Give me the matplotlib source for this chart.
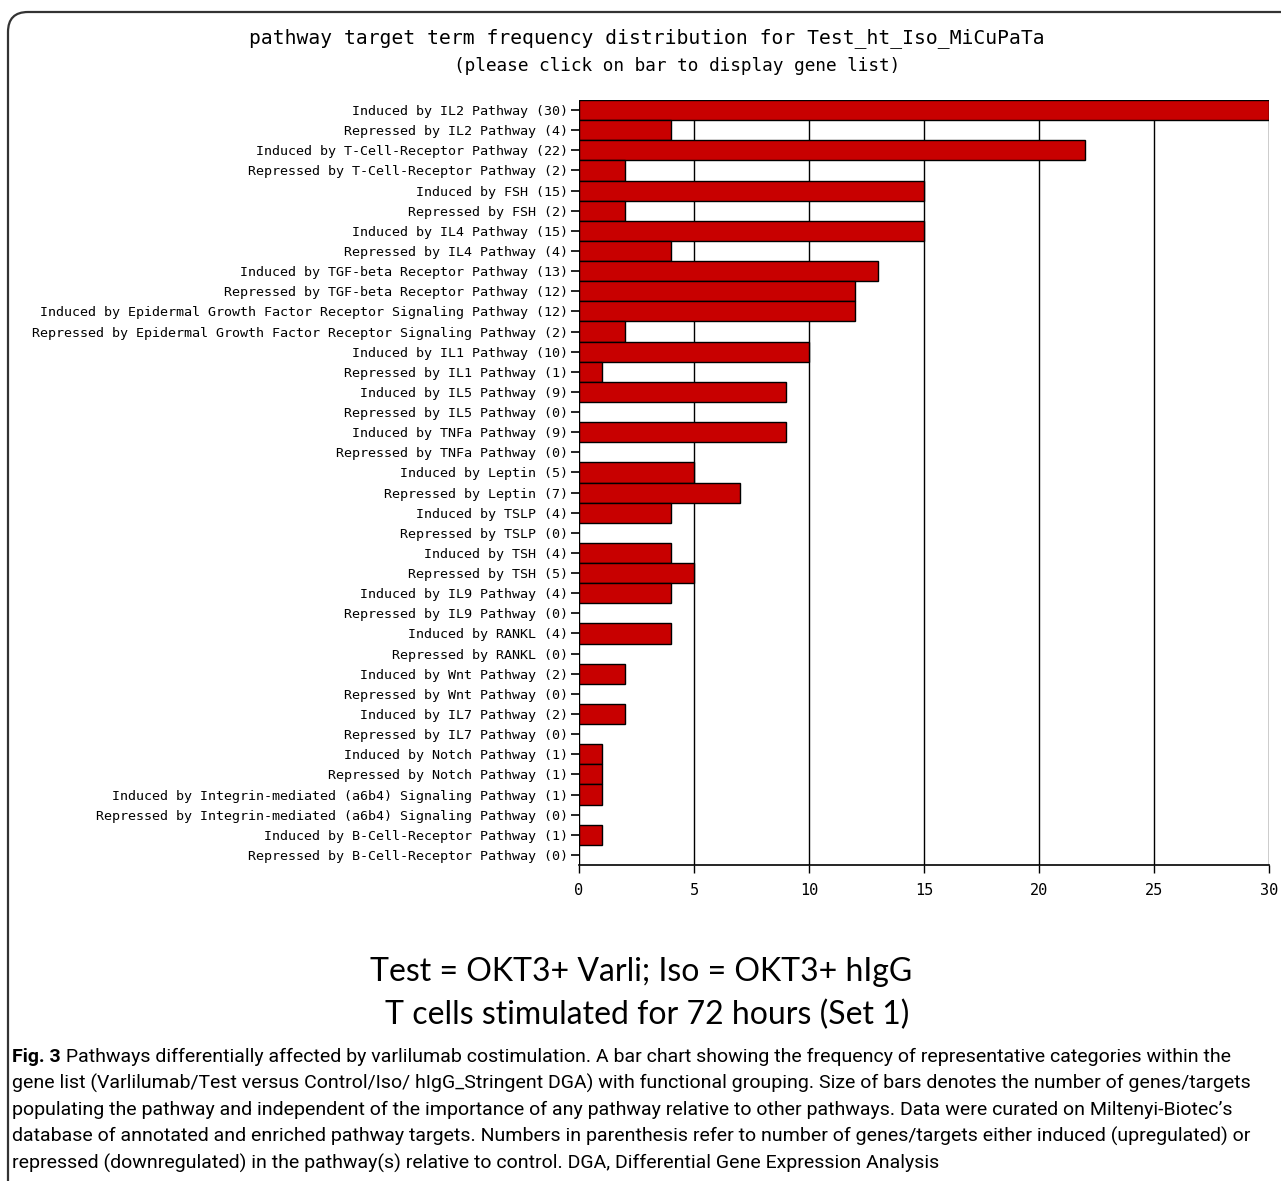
import numpy as np
import matplotlib
matplotlib.use("Agg")
import matplotlib.pyplot as plt
from matplotlib.patches import FancyBboxPatch

# pathway terms, top to bottom, with gene counts
terms = [
    "Induced by IL2 Pathway", "Repressed by IL2 Pathway",
    "Induced by T-Cell-Receptor Pathway", "Repressed by T-Cell-Receptor Pathway",
    "Induced by FSH", "Repressed by FSH",
    "Induced by IL4 Pathway", "Repressed by IL4 Pathway",
    "Induced by TGF-beta Receptor Pathway", "Repressed by TGF-beta Receptor Pathway",
    "Induced by Epidermal Growth Factor Receptor Signaling Pathway",
    "Repressed by Epidermal Growth Factor Receptor Signaling Pathway",
    "Induced by IL1 Pathway", "Repressed by IL1 Pathway",
    "Induced by IL5 Pathway", "Repressed by IL5 Pathway",
    "Induced by TNFa Pathway", "Repressed by TNFa Pathway",
    "Induced by Leptin", "Repressed by Leptin",
    "Induced by TSLP", "Repressed by TSLP",
    "Induced by TSH", "Repressed by TSH",
    "Induced by IL9 Pathway", "Repressed by IL9 Pathway",
    "Induced by RANKL", "Repressed by RANKL",
    "Induced by Wnt Pathway", "Repressed by Wnt Pathway",
    "Induced by IL7 Pathway", "Repressed by IL7 Pathway",
    "Induced by Notch Pathway", "Repressed by Notch Pathway",
    "Induced by Integrin-mediated (a6b4) Signaling Pathway",
    "Repressed by Integrin-mediated (a6b4) Signaling Pathway",
    "Induced by B-Cell-Receptor Pathway", "Repressed by B-Cell-Receptor Pathway",
]
counts = [30, 4, 22, 2, 15, 2, 15, 4, 13, 12, 12, 2, 10, 1, 9, 0, 9, 0,
          5, 7, 4, 0, 4, 5, 4, 0, 4, 0, 2, 0, 2, 0, 1, 1, 1, 0, 1, 0]
xticks = [0, 5, 10, 15, 20, 25, 30]

title = "pathway target term frequency distribution for Test_ht_Iso_MiCuPaTa"
subtitle = "(please click on bar to display gene list)"
note = ["Test = OKT3+ Varli; Iso = OKT3+ hIgG",
        "T cells stimulated for 72 hours (Set 1)"]
fig_label = "Fig. 3"
caption = [
    " Pathways differentially affected by varlilumab costimulation. A bar chart showing the frequency of representative categories within the",
    "gene list (Varlilumab/Test versus Control/Iso/ hIgG_Stringent DGA) with functional grouping. Size of bars denotes the number of genes/targets",
    "populating the pathway and independent of the importance of any pathway relative to other pathways. Data were curated on Miltenyi-Biotec\u2019s",
    "database of annotated and enriched pathway targets. Numbers in parenthesis refer to number of genes/targets either induced (upregulated) or",
    "repressed (downregulated) in the pathway(s) relative to control. DGA, Differential Gene Expression Analysis",
]

W, H = 1281, 1181
fig = plt.figure(figsize=(W / 100, H / 100), dpi=100)

mono = "DejaVu Sans Mono"

# rounded frame round the figure (open to the right and bottom)
frame = FancyBboxPatch((0.08, -1.0), 14.0, (H - 12) / 100 + 1.0,
                       boxstyle="round,pad=0,rounding_size=0.2",
                       transform=fig.dpi_scale_trans, fill=False,
                       edgecolor="#333333", linewidth=1.6)
fig.patches.append(frame)

ax = fig.add_axes([579 / W, 1 - 865 / H, 690 / W, 765 / H])
y = np.arange(len(terms))
labels = [f"{t} ({c})" for t, c in zip(terms, counts)]
ax.barh(y, counts, height=1.0, color="#c80000", edgecolor="black",
        linewidth=1.0, zorder=3)
for xv in xticks[1:]:
    ax.axvline(xv, color="black", linewidth=1.0, zorder=1)
ax.set_xlim(0, 30)
ax.set_ylim(len(terms) - 0.5, -0.5)
ax.set_yticks(y)
ax.set_yticklabels(labels, fontfamily=mono, fontsize=9.6)
ax.set_xticks(xticks)
ax.set_xticklabels([str(v) for v in xticks], fontfamily=mono, fontsize=11)
ax.tick_params(axis="y", length=6, width=1.2, pad=2)
ax.tick_params(axis="x", length=6, width=1.0, pad=7)
for s in ["top", "right", "left"]:
    ax.spines[s].set_visible(False)
ax.spines["bottom"].set_linewidth(1.2)

fig.text(647 / W, 1 - 38 / H, title, ha="center", va="center",
         fontfamily=mono, fontsize=14.1)
fig.text(677 / W, 1 - 66 / H, subtitle, ha="center", va="center",
         fontfamily=mono, fontsize=12.8)

fig.text(641 / W, 1 - 972 / H, note[0], ha="center", va="center",
         fontfamily="Lato", fontsize=23)
fig.text(647 / W, 1 - 1015 / H, note[1], ha="center", va="center",
         fontfamily="Lato", fontsize=23)

# caption: shrink the font until the first line fits the frame
cap_font = "Roboto"
line_y = [1057, 1083, 1110, 1136, 1163]
cap_size = 13.5
fig.canvas.draw()
r = fig.canvas.get_renderer()
probe = fig.text(0, 0, fig_label + caption[0], fontfamily=cap_font,
                 fontsize=cap_size)
w = probe.get_window_extent(r).width
probe.remove()
cap_size = cap_size * 1212 / w

t0 = fig.text(12 / W, 1 - line_y[0] / H, fig_label, ha="left", va="center",
              fontfamily=cap_font, fontsize=cap_size, fontweight="bold")
bb = t0.get_window_extent(r)
fig.text(bb.x1 / W, 1 - line_y[0] / H, caption[0], ha="left", va="center",
         fontfamily=cap_font, fontsize=cap_size)
for ln, yy in zip(caption[1:], line_y[1:]):
    fig.text(12 / W, 1 - yy / H, ln, ha="left", va="center",
             fontfamily=cap_font, fontsize=cap_size)

fig.savefig("out.png", dpi=100, facecolor="white")
